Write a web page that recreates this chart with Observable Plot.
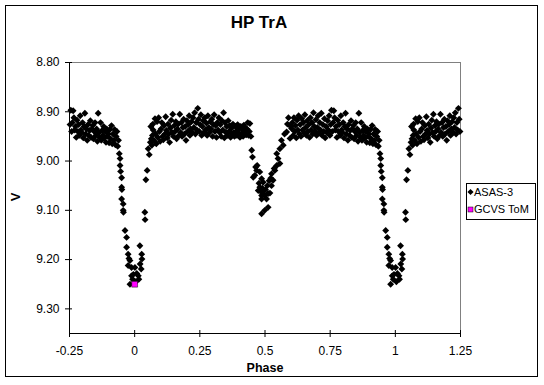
<!DOCTYPE html>
<html>
<head>
<meta charset="utf-8">
<script src="https://cdn.jsdelivr.net/npm/d3@7"></script>
<script src="https://cdn.jsdelivr.net/npm/@observablehq/plot@0.6"></script>
<style>
  html, body { margin: 0; padding: 0; background: #fff; }
</style>
</head>
<body>
<div id="chart"></div>
<script>
const chartTitle = "HP TrA";
const xLabel = "Phase";
const yLabel = "V";
const seriesNames = ["ASAS-3", "GCVS ToM"];
const xTicks = [-0.25, 0, 0.25, 0.5, 0.75, 1, 1.25];
const yTicks = [8.8, 8.9, 9.0, 9.1, 9.2, 9.3];

// ASAS-3 phased photometry (one cycle, phase 0..1); the chart repeats it outside 0..1
const asasPhase = [
  0.001,0.004,0.008,0.014,0.016,0.020,0.021,0.025,0.027,0.028,0.039,0.040,0.043,0.048,0.052,0.056,0.060,0.062,0.064,0.066,0.068,0.070,0.071,0.074,0.078,
  0.080,0.083,0.086,0.089,0.092,0.095,0.098,0.101,0.104,0.107,0.110,0.113,0.116,0.119,0.122,0.125,0.128,0.131,0.134,0.137,0.140,0.143,0.146,0.149,0.152,0.155,0.158,0.161,0.164,0.167,0.170,0.173,0.176,0.179,0.182,0.185,0.188,0.191,0.194,0.197,0.200,
  0.203,0.206,0.209,0.212,0.215,0.218,0.221,0.224,0.227,0.230,0.233,0.236,0.239,0.242,0.245,0.248,0.251,0.254,0.257,0.260,0.263,0.266,0.269,0.272,0.275,0.278,0.281,0.284,0.287,0.290,0.293,0.296,0.299,0.302,
  0.305,0.308,0.311,0.314,0.317,0.320,0.323,0.326,0.329,0.332,0.335,0.338,0.341,0.344,0.347,0.350,0.353,0.356,0.359,0.362,0.365,0.368,0.371,0.374,0.377,0.380,0.383,0.386,0.389,0.392,0.395,0.398,0.401,
  0.404,0.407,0.410,0.413,0.416,0.419,0.422,0.425,0.428,0.431,0.434,0.437,0.440,
  0.442,0.446,0.449,0.452,0.455,0.461,0.464,0.468,0.470,0.474,0.477,0.480,0.480,0.484,0.487,0.487,0.487,0.487,0.490,0.493,0.493,0.496,0.499,0.499,0.502,0.506,0.509,0.512,0.512,0.516,0.519,0.522,0.525,0.525,0.531,0.535,0.538,0.545,0.545,0.550,0.557,0.557,0.563,0.570,0.575,0.583,0.586,0.590,0.596,0.599,0.602,
  0.605,0.608,0.611,0.614,0.617,0.620,0.623,0.626,0.629,0.632,0.635,0.638,0.641,0.644,0.647,0.650,0.653,0.656,0.659,0.662,0.665,0.668,0.671,0.674,0.677,0.680,0.683,0.686,0.689,0.692,0.695,0.698,0.701,
  0.704,0.707,0.710,0.713,0.716,0.719,0.722,0.725,0.728,0.731,0.734,0.737,0.740,0.743,0.746,0.749,0.752,0.755,0.758,0.761,0.764,0.767,0.770,0.773,0.776,0.779,0.782,0.785,0.788,0.791,0.794,0.797,0.800,
  0.803,0.806,0.809,0.812,0.815,0.818,0.821,0.824,0.827,0.830,0.833,0.836,0.839,0.842,0.845,0.848,0.851,0.854,0.857,0.860,0.863,0.866,0.869,0.872,0.875,0.878,0.881,0.884,0.887,0.890,0.893,0.896,0.899,
  0.902,0.905,0.908,0.911,0.914,0.917,0.920,0.923,0.926,0.929,0.932,0.935,0.938,
  0.941,0.944,0.944,0.946,0.950,0.950,0.951,0.950,0.956,0.956,0.957,0.963,0.969,0.969,0.975,0.975,0.978,0.982,0.982,0.988,0.988,0.992,0.995
];
const asasMag = [
  9.216,9.245,9.228,9.233,9.240,9.172,9.209,9.219,9.189,9.199,9.104,9.119,9.038,9.019,8.975,8.987,8.962,8.930,8.955,8.968,8.948,8.925,8.937,8.958,8.914,
  8.945,8.965,8.920,8.952,8.912,8.940,8.960,8.935,8.922,8.950,8.957,8.928,8.945,8.910,8.938,8.953,8.925,8.945,8.962,8.933,8.917,8.942,8.905,8.950,8.928,8.940,8.920,8.955,8.935,8.925,8.948,8.905,8.942,8.922,8.950,8.932,8.915,8.945,8.930,8.958,8.918,
  8.940,8.926,8.908,8.948,8.935,8.920,8.942,8.912,8.932,8.902,8.945,8.922,8.937,8.893,8.915,8.940,8.926,8.906,8.948,8.930,8.918,8.942,8.912,8.937,8.923,8.948,8.908,8.932,8.942,8.920,8.935,8.915,8.950,8.926,
  8.906,8.940,8.928,8.952,8.922,8.937,8.912,8.942,8.926,8.950,8.918,8.937,8.902,8.953,8.922,8.942,8.930,8.948,8.918,8.940,8.928,8.952,8.933,8.945,8.925,8.942,8.950,8.930,8.940,8.948,8.926,8.942,8.934,
  8.952,8.930,8.945,8.936,8.950,8.927,8.942,8.933,8.947,8.935,8.922,8.948,8.940,
  8.924,8.950,8.978,8.992,9.033,9.029,9.012,9.019,9.009,9.060,9.045,9.022,9.053,9.062,9.036,9.070,9.077,9.107,9.055,9.043,9.060,9.068,9.070,9.100,9.058,9.077,9.050,9.066,9.094,9.040,9.065,9.035,9.050,9.026,9.039,9.015,9.019,9.009,8.985,8.995,9.005,8.975,8.958,8.968,8.945,8.941,8.925,8.912,8.954,8.930,8.934,
  8.922,8.948,8.912,8.940,8.928,8.953,8.917,8.937,8.908,8.945,8.926,8.950,8.914,8.937,8.922,8.943,8.906,8.932,8.948,8.918,8.940,8.926,8.952,8.912,8.937,8.922,8.945,8.902,8.930,8.940,8.916,8.948,8.932,
  8.908,8.943,8.922,8.937,8.903,8.948,8.926,8.940,8.914,8.953,8.930,8.942,8.918,8.937,8.908,8.948,8.926,8.897,8.940,8.922,8.898,8.912,8.937,8.930,8.952,8.917,8.940,8.926,8.948,8.908,8.937,8.942,8.922,
  8.953,8.930,8.903,8.945,8.935,8.958,8.926,8.948,8.938,8.918,8.952,8.935,8.928,8.955,8.940,8.922,8.948,8.935,8.960,8.903,8.942,8.952,8.922,8.958,8.938,8.948,8.930,8.953,8.940,8.962,8.935,8.950,8.945,
  8.963,8.936,8.955,8.928,8.965,8.945,8.958,8.936,8.967,8.950,8.940,8.970,8.958,
  8.985,8.995,9.009,9.021,9.034,9.053,9.058,9.077,9.087,9.100,9.104,9.141,9.155,9.175,9.189,9.212,9.198,9.202,9.250,9.216,9.233,9.240,9.230
];
// GCVS time of minimum
const tomPhase = [0];
const tomMag = [9.25];

const asasRows = [];
asasPhase.forEach((p, i) => {
  asasRows.push({phase: p, v: asasMag[i]});
  if (p <= 0.25) asasRows.push({phase: p + 1, v: asasMag[i]});
  if (p >= 0.75) asasRows.push({phase: p - 1, v: asasMag[i]});
});
const tomRows = tomPhase.map((p, i) => ({phase: p, v: tomMag[i]}));

const W = 544, H = 385;
const mL = 69, mR = 84, mT = 62, mB = 52;
const frameW = W - mL - mR, frameH = H - mT - mB;

const plot = Plot.plot({
  width: W,
  height: H,
  marginLeft: mL,
  marginRight: mR,
  marginTop: mT,
  marginBottom: mB,
  style: {fontFamily: "'Liberation Sans', Arial, sans-serif", fontSize: "12px", background: "#fff", color: "#000", overflow: "visible"},
  x: {domain: [-0.25, 1.25]},
  y: {domain: [8.8, 9.35], reverse: true},
  marks: [
    Plot.frame({stroke: "#808080"}),
    Plot.ruleX([-0.25], {stroke: "#000"}),
    Plot.ruleY([9.35], {stroke: "#000"}),
    Plot.tickX(xTicks, {x: d => d, stroke: "#000", insetTop: frameH - 3, insetBottom: -4}),
    Plot.tickY(yTicks, {y: d => d, stroke: "#000", insetLeft: -4, insetRight: frameW - 3}),
    Plot.axisX({ticks: xTicks, tickSize: 0, tickPadding: 13, tickFormat: d => String(d), label: null, fontSize: 12}),
    Plot.axisY({ticks: yTicks, tickSize: 0, tickPadding: 10, tickFormat: d3.format(".2f"), label: null, fontSize: 12}),
    Plot.dot(asasRows, {x: "phase", y: "v", symbol: "diamond2", r: 3.1, fill: "#000"}),
    Plot.dot(tomRows, {x: "phase", y: "v", symbol: "square", r: 3.3, fill: "#FF00FF", stroke: "#000", strokeWidth: 0.5})
  ]
});

const svg = d3.select(plot);
// outer chart border
svg.append("rect").attr("x", 5.5).attr("y", 5.5).attr("width", 532).attr("height", 371)
  .attr("fill", "none").attr("stroke", "#000");
// title
svg.append("text").attr("x", 259).attr("y", 28).attr("text-anchor", "middle")
  .attr("font-weight", "bold").attr("font-size", 17).text(chartTitle);
// axis titles
svg.append("text").attr("transform", "translate(20,197) rotate(-90)").attr("text-anchor", "middle")
  .attr("font-weight", "bold").attr("font-size", 13).text(yLabel);
svg.append("text").attr("x", 265).attr("y", 372).attr("text-anchor", "middle")
  .attr("font-weight", "bold").attr("font-size", 12.5).text(xLabel);
// legend
const lg = svg.append("g").attr("text-anchor", "start");
lg.append("rect").attr("x", 466.5).attr("y", 183.5).attr("width", 69).attr("height", 36)
  .attr("fill", "#fff").attr("stroke", "#000");
lg.append("path").attr("d", d3.symbol(d3.symbolDiamond2, 24)()).attr("transform", "translate(470.5,192)").attr("fill", "#000");
lg.append("rect").attr("x", 468).attr("y", 207).attr("width", 5).attr("height", 5)
  .attr("fill", "#FF00FF").attr("stroke", "#000").attr("stroke-width", 0.5);
lg.append("text").attr("x", 474).attr("y", 196).attr("text-anchor", "start").attr("font-size", 11).text(seriesNames[0]);
lg.append("text").attr("x", 474).attr("y", 213).attr("text-anchor", "start").attr("font-size", 11).text(seriesNames[1]);

document.getElementById("chart").appendChild(plot);
</script>
</body>
</html>
